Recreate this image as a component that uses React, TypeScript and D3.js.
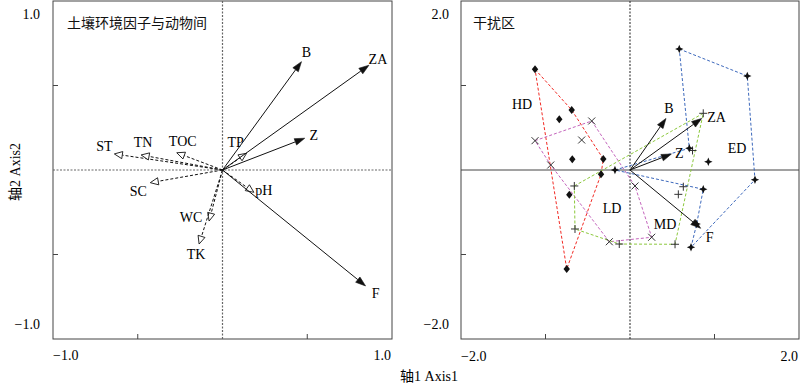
import React from "react";
import * as d3 from "d3";

// environmental factors (left panel, dashed arrows with open heads)
const envNames = ["ST", "TN", "TOC", "TP", "SC", "pH", "WC", "TK"];
const envX = [-0.638, -0.48, -0.27, 0.142, -0.426, 0.185, -0.079, -0.138];
const envY = [0.095, 0.089, 0.102, 0.099, -0.075, -0.132, -0.302, -0.438];

// soil animals (solid arrows)
const animalNames = ["B", "ZA", "Z", "F"];
const animalX = [0.466, 0.864, 0.485, 0.844];
const animalY = [0.641, 0.62, 0.188, -0.686];
const siteAnimalX = [0.426, 0.848, 0.49, 0.836];
const siteAnimalY = [0.61, 0.61, 0.189, -0.69];

// disturbance groups (right panel): outline in drawing order + inner points
const hdOutline = [[-1.124, 1.192], [-0.69, 0.71], [-0.316, 0.13], [-0.343, -0.051], [-0.749, -1.172]];
const hdInner = [[-0.837, 0.6], [-0.683, 0.127], [-0.718, -0.292]];
const mdOutline = [[-1.124, 0.347], [-0.453, 0.58], [0.059, -0.189], [0.257, -0.796], [-0.245, -0.849], [-0.938, 0.059]];
const mdInner = [[-0.572, 0.355]];
const ldOutline = [[-0.659, -0.189], [0.867, 0.671], [0.533, -0.879], [-0.127, -0.876], [-0.651, -0.698]];
const ldInner = [[0.572, -0.288], [0.631, -0.198], [0.74, 0.231]];
const edOutline = [[0.583, 1.432], [1.388, 1.112], [1.479, -0.115], [0.722, -0.915], [0.789, -0.639], [0.867, -0.228], [-0.178, 0.0], [0.702, 0.257]];
const edInner = [[0.927, 0.098]];
const groupNames = ["HD", "MD", "LD", "ED"];
const groupLabelX = [-1.278, 0.414, -0.213, 1.266];
const groupLabelY = [0.77, -0.64, -0.45, 0.26];

const leftTicks = [-0.5, 0.5];
const rightTicks = [-1, 1];

// styling
const SERIF = "'Liberation Serif', 'Times New Roman', 'Noto Sans CJK SC', serif";
const CJK = "'Noto Sans CJK SC', sans-serif";
const groupColor: Record<string, string> = { HD: "#f22a24", MD: "#c464bc", LD: "#8cc83c", ED: "#3c68bc" };
const envNudge: Record<string, [number, number]> = {
  ST: [-10, -7], TN: [2, -12], TOC: [6, -11], TP: [-11, -11],
  SC: [-12, 9], pH: [10, -2], WC: [-18, -4], TK: [-3, 10],
};
const animalNudge: Record<string, [number, number]> = { B: [5, -9], ZA: [9, -6], Z: [9, -3], F: [10, 8] };
const siteNudge: Record<string, [number, number]> = { B: [3, -10], ZA: [15, -1], Z: [8, -1], F: [9, 9] };

const Y0 = 1, Y1 = 339;

function Arrow({ x1, y1, x2, y2, open }: { x1: number; y1: number; x2: number; y2: number; open?: boolean }) {
  const a = Math.atan2(y2 - y1, x2 - x1);
  const len = open ? 8 : 10;
  const hw = open ? 3.6 : 3.4;
  const c = Math.cos(a), s = Math.sin(a);
  const bx = x2 - len * c, by = y2 - len * s;
  const pts = [[x2, y2], [bx - s * hw, by + c * hw], [bx + s * hw, by - c * hw]];
  return (
    <g>
      <line x1={x1} y1={y1} x2={bx} y2={by} stroke="#111" strokeWidth={1}
        strokeDasharray={open ? "3,2" : undefined} />
      <polygon points={pts.map(p => p.join(",")).join(" ")}
        fill={open ? "#fff" : "#111"} stroke="#111" strokeWidth={open ? 0.9 : 0.6} />
    </g>
  );
}

function star4(r: number) {
  const q = r * 0.3;
  return `M0,${-r}L${q},${-q}L${r},0L${q},${q}L0,${r}L${-q},${q}L${-r},0L${-q},${-q}Z`;
}

function Marker({ g, x, y }: { g: string; x: number; y: number }) {
  const t = `translate(${x},${y})`;
  if (g === "HD") return <path transform={t} d="M0,-4L3.2,0L0,4L-3.2,0Z" fill="#111" />;
  if (g === "ED") return <path transform={t} d={star4(4.2)} fill="#111" />;
  if (g === "MD") return <path transform={t} d="M-3.5,-3.5L3.5,3.5M-3.5,3.5L3.5,-3.5" stroke="#333" strokeWidth={1} />;
  return <path transform={t} d="M-4,0L4,0M0,-4L0,4" stroke="#333" strokeWidth={1} />;
}

function Frame({ x0, x1, ticksX, ticksY, sx, sy }: any) {
  return (
    <g>
      <rect x={x0} y={Y0} width={x1 - x0} height={Y1 - Y0} fill="none" stroke="#444" strokeWidth={1} />
      {ticksX.map((t: number) => (
        <line key={"x" + t} x1={sx(t)} x2={sx(t)} y1={Y1} y2={Y1 - 5} stroke="#444" />
      ))}
      {ticksY.map((t: number) => (
        <line key={"y" + t} x1={x0} x2={x0 + 5} y1={sy(t)} y2={sy(t)} stroke="#444" />
      ))}
    </g>
  );
}

export default function App() {
  const lx = d3.scaleLinear().domain([-1, 1]).range([53, 392]);
  const ly = d3.scaleLinear().domain([-1, 1]).range([Y1, Y0]);
  const rx = d3.scaleLinear().domain([-2, 2]).range([461, 799]);
  const ry = d3.scaleLinear().domain([-2, 2]).range([Y1, Y0]);

  const groups: Record<string, { outline: number[][]; inner: number[][] }> = {
    HD: { outline: hdOutline, inner: hdInner },
    MD: { outline: mdOutline, inner: mdInner },
    LD: { outline: ldOutline, inner: ldInner },
    ED: { outline: edOutline, inner: edInner },
  };
  const outlineLine = d3.line<number[]>().x(d => rx(d[0])).y(d => ry(d[1])).curve(d3.curveLinearClosed);

  const txt = { fontFamily: SERIF, fontSize: 14, fill: "#000" } as const;

  return (
    <svg width={800} height={384} style={{ position: "absolute", left: 0, top: 0, background: "#fff" }}>
      {/* ---------- left panel ---------- */}
      <Frame x0={53} x1={392} ticksX={leftTicks} ticksY={leftTicks} sx={lx} sy={ly} />
      <line x1={lx(0)} x2={lx(0)} y1={Y0} y2={Y1} stroke="#666" strokeWidth={1.2} strokeDasharray="2,1.5" />
      <line x1={53} x2={392} y1={ly(0)} y2={ly(0)} stroke="#666" strokeWidth={1.2} strokeDasharray="2,1.5" />
      <text x={67} y={22} dominantBaseline="central" fontFamily={CJK} fontSize={14} fill="#111">土壤环境因子与动物间</text>
      {envNames.map((n, i) => (
        <Arrow key={n} x1={lx(0)} y1={ly(0)} x2={lx(envX[i])} y2={ly(envY[i])} open />
      ))}
      {animalNames.map((n, i) => (
        <Arrow key={n} x1={lx(0)} y1={ly(0)} x2={lx(animalX[i])} y2={ly(animalY[i])} />
      ))}
      {envNames.map((n, i) => (
        <text key={"t" + n} {...txt} x={lx(envX[i]) + envNudge[n][0]} y={ly(envY[i]) + envNudge[n][1]}
          textAnchor="middle" dominantBaseline="central">{n}</text>
      ))}
      {animalNames.map((n, i) => (
        <text key={"t" + n} {...txt} x={lx(animalX[i]) + animalNudge[n][0]} y={ly(animalY[i]) + animalNudge[n][1]}
          textAnchor="middle" dominantBaseline="central">{n}</text>
      ))}

      {/* ---------- right panel ---------- */}
      <Frame x0={461} x1={799} ticksX={rightTicks} ticksY={rightTicks} sx={rx} sy={ry} />
      <line x1={rx(0)} x2={rx(0)} y1={Y0} y2={Y1} stroke="#333" strokeWidth={1.1} strokeDasharray="2,1.5" />
      <line x1={461} x2={799} y1={ry(0)} y2={ry(0)} stroke="#444" />
      <text x={473} y={22} dominantBaseline="central" fontFamily={CJK} fontSize={14} fill="#111">干扰区</text>
      {groupNames.map(g => (
        <path key={"o" + g} d={outlineLine(groups[g].outline) || ""} fill="none"
          stroke={groupColor[g]} strokeWidth={1} strokeDasharray="3,2" />
      ))}
      {animalNames.map((n, i) => (
        <Arrow key={"r" + n} x1={rx(0)} y1={ry(0)} x2={rx(siteAnimalX[i])} y2={ry(siteAnimalY[i])} />
      ))}
      {groupNames.map(g => (
        <g key={"m" + g}>
          {groups[g].outline.concat(groups[g].inner).map((p, j) => (
            <Marker key={j} g={g} x={rx(p[0])} y={ry(p[1])} />
          ))}
        </g>
      ))}
      {animalNames.map((n, i) => (
        <text key={"rt" + n} {...txt} x={rx(siteAnimalX[i]) + siteNudge[n][0]} y={ry(siteAnimalY[i]) + siteNudge[n][1]}
          textAnchor="middle" dominantBaseline="central">{n}</text>
      ))}
      {groupNames.map((g, i) => (
        <text key={"gl" + g} {...txt} x={rx(groupLabelX[i])} y={ry(groupLabelY[i])}
          textAnchor="middle" dominantBaseline="central">{g}</text>
      ))}

      {/* ---------- axis labels ---------- */}
      <text {...txt} x={40} y={14} textAnchor="end" dominantBaseline="central">1.0</text>
      <text {...txt} x={40} y={324} textAnchor="end" dominantBaseline="central">−1.0</text>
      <text {...txt} x={53} y={355} dominantBaseline="central">−1.0</text>
      <text {...txt} x={391} y={355} textAnchor="end" dominantBaseline="central">1.0</text>
      <text {...txt} x={449} y={14} textAnchor="end" dominantBaseline="central">2.0</text>
      <text {...txt} x={449} y={324} textAnchor="end" dominantBaseline="central">−2.0</text>
      <text {...txt} x={461} y={356} dominantBaseline="central">−2.0</text>
      <text {...txt} x={798} y={356} textAnchor="end" dominantBaseline="central">2.0</text>
      <text {...txt} x={429} y={376} textAnchor="middle" dominantBaseline="central">轴1 Axis1</text>
      <text {...txt} transform="translate(15,172) rotate(-90)" textAnchor="middle" dominantBaseline="central">轴2 Axis2</text>
    </svg>
  );
}
